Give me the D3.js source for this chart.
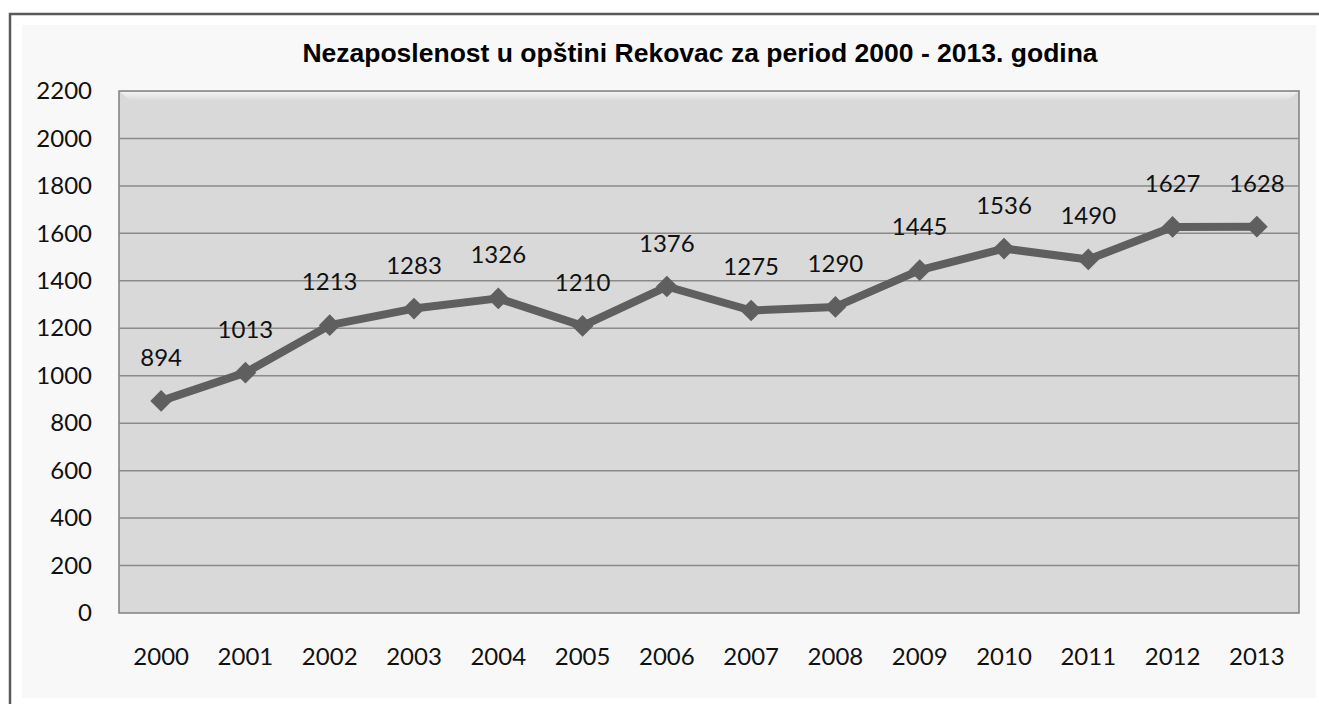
<!DOCTYPE html>
<html>
<head>
<meta charset="utf-8">
<script src="https://cdn.jsdelivr.net/npm/d3@7"></script>
<style>
  body { margin: 0; background: #fff; }
  svg { display: block; }
  .tick-lbl { font-family: Lato, "Open Sans", sans-serif; font-size: 24px; fill: #111; }
  .val-lbl { font-family: Lato, "Open Sans", sans-serif; font-size: 24px; fill: #111; }
  .title { font-family: "Liberation Sans", Arial, sans-serif; font-size: 26.5px; font-weight: bold; fill: #000; }
</style>
</head>
<body>
<svg id="chart" width="1319" height="704"></svg>
<script>
var years = ["2000", "2001", "2002", "2003", "2004", "2005", "2006",
             "2007", "2008", "2009", "2010", "2011", "2012", "2013"];
var unemployed = [894, 1013, 1213, 1283, 1326, 1210, 1376,
                  1275, 1290, 1445, 1536, 1490, 1627, 1628];
var yTicks = [0, 200, 400, 600, 800, 1000, 1200, 1400, 1600, 1800, 2000, 2200];
var title = "Nezaposlenost u opštini Rekovac za period 2000 - 2013. godina";

var svg = d3.select("#chart");

// outer frame (cut off at right/bottom like the source) + chart area
svg.append("rect")
  .attr("x", 22).attr("y", 25)
  .attr("width", 1294).attr("height", 673)
  .attr("fill", "#f8f8f8");
svg.append("path")
  .attr("d", "M10,704V14H1319")
  .attr("fill", "none")
  .attr("stroke", "#5a5a5a").attr("stroke-width", 2.5);

var P = {l: 119, r: 1299, t: 91, b: 613};

var x = d3.scaleBand().domain(years).range([P.l, P.r]);
var y = d3.scaleLinear().domain([0, 2200]).range([P.b, P.t]);

// plot area with a small bevel
var defs = svg.append("defs");
var lg = defs.append("linearGradient").attr("id", "bevel")
  .attr("x1", 0).attr("y1", 0).attr("x2", 0).attr("y2", 1);
lg.append("stop").attr("offset", 0).attr("stop-color", "#f2f2f2");
lg.append("stop").attr("offset", 1).attr("stop-color", "#d9d9d9");

svg.append("rect")
  .attr("x", P.l).attr("y", P.t)
  .attr("width", P.r - P.l).attr("height", P.b - P.t)
  .attr("fill", "#d9d9d9")
  .attr("stroke", "#7f7f7f").attr("stroke-width", 1.5);
svg.append("path")
  .attr("d", "M" + (P.l + 1) + "," + (P.t + 1) + "L" + (P.r - 1) + "," + (P.t + 1) +
             "L" + (P.r - 12) + "," + (P.t + 10) + "L" + (P.l + 12) + "," + (P.t + 10) + "Z")
  .attr("fill", "url(#bevel)");

// gridlines
svg.append("g").selectAll("line")
  .data(yTicks.filter(function(d) { return d > 0 && d < 2200; }))
  .enter().append("line")
  .attr("x1", P.l).attr("x2", P.r)
  .attr("y1", function(d) { return y(d); })
  .attr("y2", function(d) { return y(d); })
  .attr("stroke", "#8a8a8a").attr("stroke-width", 1.5);

// y axis
var yAxis = svg.append("g")
  .attr("transform", "translate(" + P.l + ",0)")
  .call(d3.axisLeft(y).tickValues(yTicks).tickFormat(d3.format("d"))
        .tickSize(0).tickPadding(27));
yAxis.select(".domain").remove();
yAxis.selectAll("text").attr("class", "tick-lbl").attr("fill", null);

// x axis
var xAxis = svg.append("g")
  .attr("transform", "translate(0," + P.b + ")")
  .call(d3.axisBottom(x).tickSize(0));
xAxis.select(".domain").remove();
xAxis.selectAll("text").attr("class", "tick-lbl").attr("fill", null)
  .attr("y", 52).attr("dy", 0);

var cx = function(i) { return x(years[i]) + x.bandwidth() / 2; };

// line
var line = d3.line()
  .x(function(d, i) { return cx(i); })
  .y(function(d) { return y(d); });
svg.append("path")
  .datum(unemployed)
  .attr("d", line)
  .attr("fill", "none")
  .attr("stroke", "#5f5f5f")
  .attr("stroke-width", 8)
  .attr("stroke-linejoin", "round");

// diamond markers
svg.append("g").selectAll("path")
  .data(unemployed)
  .enter().append("path")
  .attr("d", d3.symbol().type(d3.symbolDiamond2).size(300))
  .attr("transform", function(d, i) { return "translate(" + cx(i) + "," + y(d) + ")"; })
  .attr("fill", "#5f5f5f");

// value labels
svg.append("g").selectAll("text")
  .data(unemployed)
  .enter().append("text")
  .attr("class", "val-lbl")
  .attr("text-anchor", "middle")
  .attr("x", function(d, i) { return cx(i); })
  .attr("y", function(d) { return y(d) - 35; })
  .text(function(d) { return d; });

svg.append("text")
  .attr("class", "title")
  .attr("x", 700).attr("y", 62)
  .attr("text-anchor", "middle")
  .text(title);
</script>
</body>
</html>
